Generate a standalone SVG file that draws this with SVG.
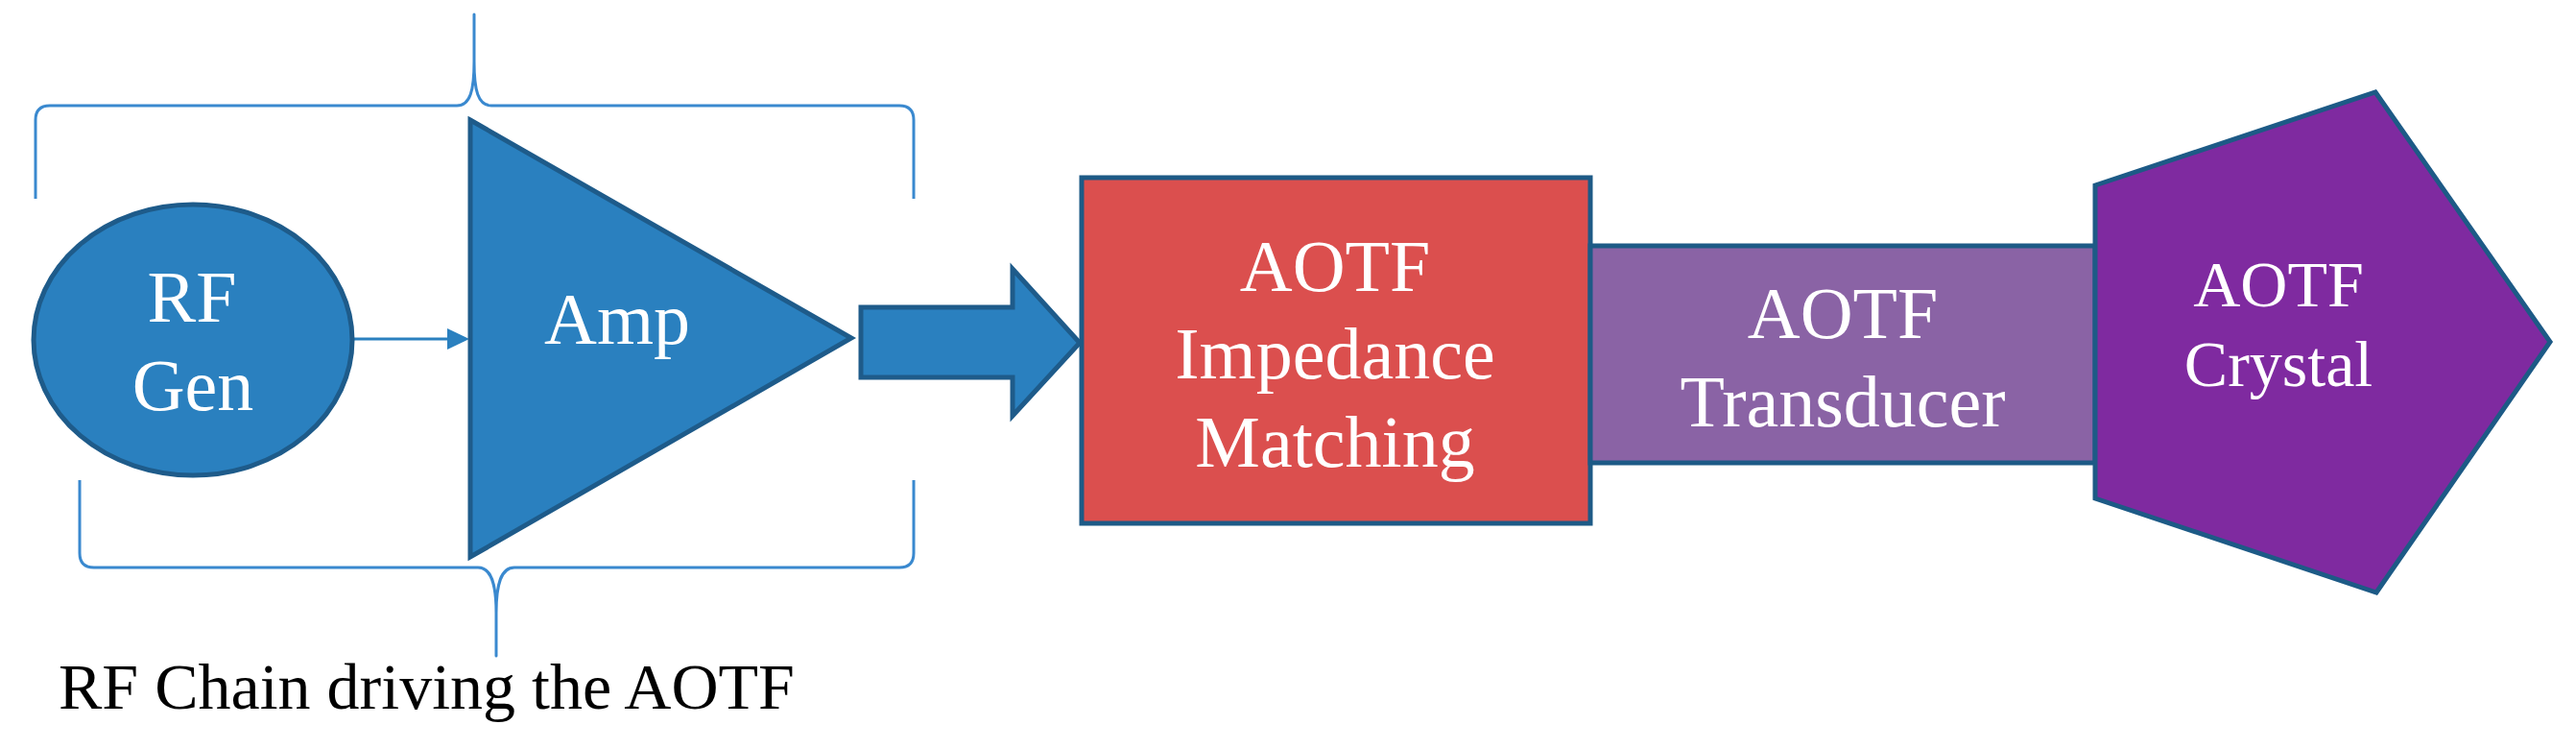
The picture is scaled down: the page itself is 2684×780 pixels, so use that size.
<svg xmlns="http://www.w3.org/2000/svg" width="2684" height="780" viewBox="0 0 2684 780">
<style>
.lbl{font-family:"Liberation Serif","Times New Roman",serif;fill:#ffffff;text-anchor:middle;font-size:76px}
.cap{font-family:"Liberation Serif","Times New Roman",serif;fill:#000000;font-size:68px}
.brace{fill:none;stroke:#3A89CF;stroke-width:3;stroke-linejoin:round}
.blue{fill:#2A80BF;stroke:#1E5B8A;stroke-width:5;stroke-linejoin:miter}
.box{stroke:#1D5A86;stroke-width:5}
</style>
<rect width="2684" height="780" fill="#ffffff"/>
<g id="braces">
<path class="brace" d="M37,207 L37,125 Q37,110 52,110 L476,110 C490,110 494,94 494,64 L494,15 L494,64 C494,94 498,110 512,110 L937,110 Q952,110 952,125 L952,207"/>
<path class="brace" d="M83,500 L83,576 Q83,591 98,591 L498,591 C512,591 517,608 517,638 L517,683 L517,638 C517,608 522,591 536,591 L937,591 Q952,591 952,576 L952,500"/>
</g>
<g id="connectors">
<line x1="369" y1="353" x2="467" y2="353" stroke="#2A80BF" stroke-width="3"/>
<polygon points="466,342 489,353 466,364" fill="#2A80BF"/>
<polygon class="blue" points="897,320 1055,320 1055,280 1125,357 1055,433 1055,393 897,393"/>
</g>
<g id="rfgen">
<ellipse class="blue" cx="201" cy="354" rx="166" ry="141"/>
<text class="lbl" x="200" y="335">RF</text>
<text class="lbl" x="201" y="427">Gen</text>
</g>
<g id="amp">
<polygon class="blue" points="490,125 887,352 490,580"/>
<text class="lbl" x="643" y="358">Amp</text>
</g>
<g id="matching">
<rect class="box" x="1127" y="185" width="530" height="360" fill="#DB4F4E"/>
<text class="lbl" x="1391" y="303">AOTF</text>
<text class="lbl" x="1391" y="394">Impedance</text>
<text class="lbl" x="1391" y="486">Matching</text>
</g>
<g id="transducer">
<rect class="box" x="1657" y="256" width="526" height="226" fill="#8A63A5"/>
<text class="lbl" x="1920" y="352">AOTF</text>
<text class="lbl" x="1920" y="444">Transducer</text>
</g>
<g id="crystal">
<polygon class="box" points="2183,193 2475,96 2657,356 2476,617 2183,519" fill="#7F2AA0"/>
<text class="lbl" x="2374" y="319" style="font-size:68px">AOTF</text>
<text class="lbl" x="2374" y="402" style="font-size:68px">Crystal</text>
</g>
<g id="caption">
<text class="cap" x="61" y="738">RF Chain driving the AOTF</text>
</g>
</svg>
